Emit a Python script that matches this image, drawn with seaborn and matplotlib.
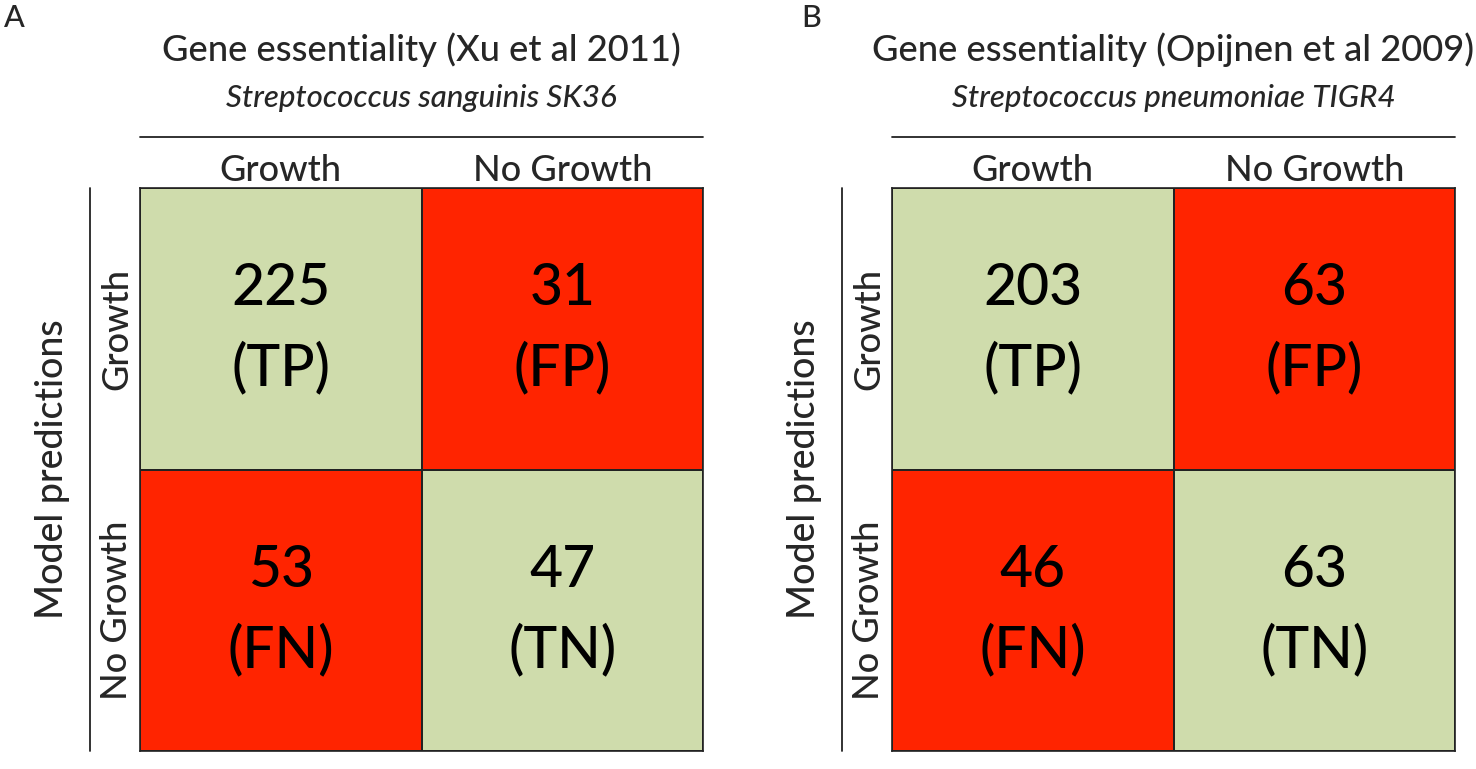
import numpy as np
import seaborn as sns
import matplotlib.pyplot as plt
from matplotlib.colors import ListedColormap

# data
classes = ['Growth', 'No Growth']
counts_a = [[225, 31], [53, 47]]
counts_b = [[203, 63], [46, 63]]
kinds = [['TP', 'FP'], ['FN', 'TN']]
titles = ['Gene essentiality (Xu et al 2011)', 'Gene essentiality (Opijnen et al 2009)']
organisms = ['Streptococcus sanguinis SK36', 'Streptococcus pneumoniae TIGR4']
panel_letters = ['A', 'B']

GREEN = '#CFDCAC'
RED = '#FF2400'
INK = '#222222'

sns.set_theme(style='white')
plt.rcParams['font.family'] = ['Lato', 'DejaVu Sans']
plt.rcParams['font.weight'] = 'medium'


def plot_panel(ax, counts, title, organism):
    counts = np.array(counts)
    # true predictions are green, false ones red
    wrong = np.array([[0 if k.startswith('T') else 1 for k in row] for row in kinds])
    annot = np.array([['{}\n({})'.format(c, k) for c, k in zip(crow, krow)]
                      for crow, krow in zip(counts, kinds)])
    sns.heatmap(wrong, annot=annot, fmt='', cmap=ListedColormap([GREEN, RED]),
                vmin=0, vmax=1, cbar=False, linewidths=1.2, linecolor=INK,
                xticklabels=classes, yticklabels=classes, ax=ax,
                annot_kws={'fontsize': 41, 'color': 'black', 'linespacing': 1.6})
    for s in ax.spines.values():
        s.set_visible(True)
        s.set_color(INK)
        s.set_linewidth(1.2)

    ax.xaxis.tick_top()
    ax.tick_params(length=0, labelsize=26)
    ax.tick_params(axis='x', pad=1)
    ax.tick_params(axis='y', pad=5)
    plt.setp(ax.get_yticklabels(), rotation=90, va='center')

    ax.text(-0.156, 0.5, 'Model predictions', transform=ax.transAxes, rotation=90,
            ha='center', va='center', fontsize=27)
    ax.text(0.5, 1.245, title, transform=ax.transAxes, ha='center', va='center', fontsize=26.2)
    ax.text(0.5, 1.16, organism, transform=ax.transAxes, ha='center', va='center',
            fontsize=22.5, style='italic')
    ax.plot([0, 1], [1.0906, 1.0906], transform=ax.transAxes, color=INK,
            lw=1.3, clip_on=False)
    ax.plot([-0.0888, -0.0888], [0, 1], transform=ax.transAxes, color=INK,
            lw=1.3, clip_on=False)


fig = plt.figure(figsize=(14.76, 7.69), dpi=100)
lefts = [140 / 1476, 892 / 1476]
for i, left in enumerate(lefts):
    ax = fig.add_axes([left, 1 - 751 / 769, 563 / 1476, 563 / 769])
    plot_panel(ax, [counts_a, counts_b][i], titles[i], organisms[i])

fig.text(0.003, 0.976, panel_letters[0], fontsize=22, va='center', ha='left')
fig.text(0.5427, 0.976, panel_letters[1], fontsize=22, va='center', ha='left')

fig.savefig('out.png', dpi=100)
